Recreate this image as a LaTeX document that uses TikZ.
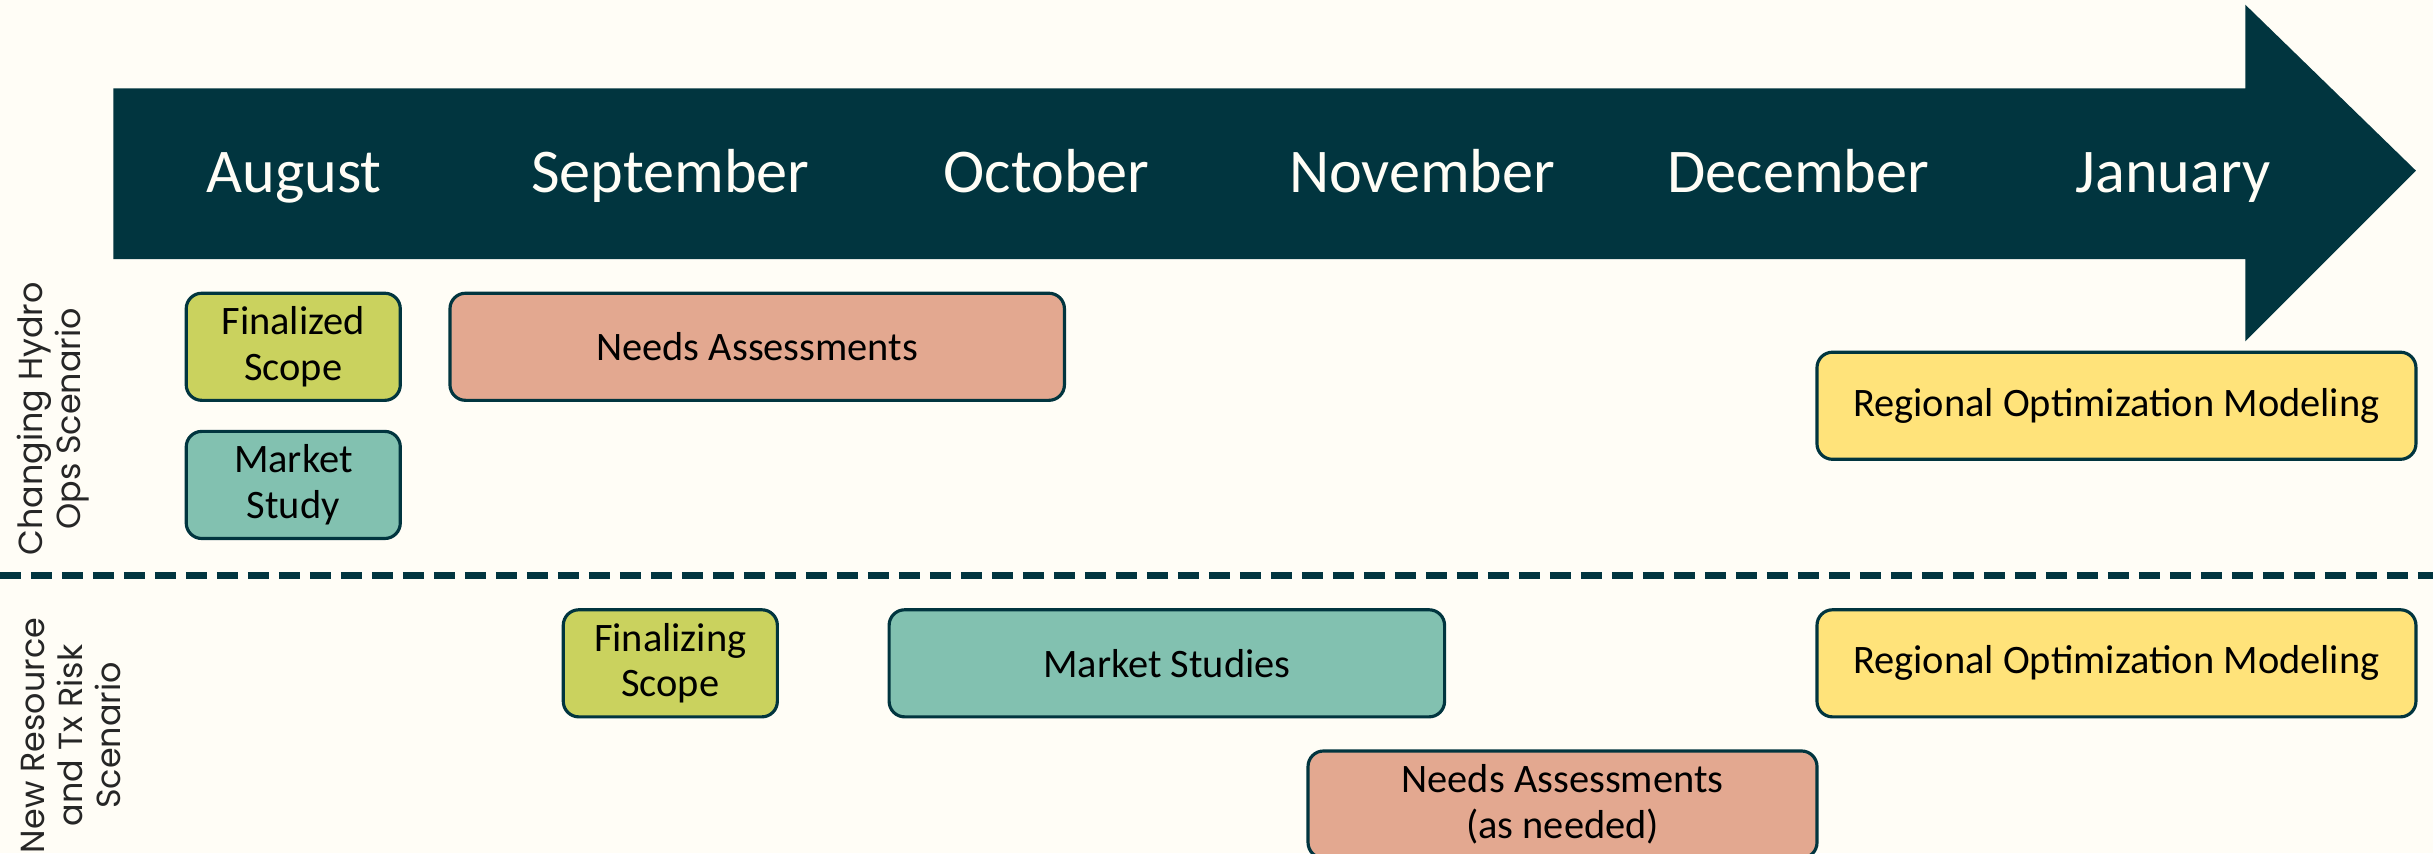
\documentclass[tikz,border=0pt]{standalone}
\usepackage{fontspec}
\setmainfont{Carlito}
\newfontfamily\lanefont{Poppins}
\usepackage{tikz}
\usetikzlibrary{positioning}

\definecolor{bgcream}{HTML}{FFFDF6}
\definecolor{deepteal}{HTML}{01353F}
\definecolor{scopegreen}{HTML}{CAD25E}
\definecolor{needsalmon}{HTML}{E3A890}
\definecolor{marketteal}{HTML}{82C1B0}
\definecolor{regionyellow}{HTML}{FFE37A}

\begin{document}
\begin{tikzpicture}[
      x=0.015517cm, y=-0.015517cm,
      month/.style={
        anchor=base,
        text=bgcream,
        font=\fontsize{17.7}{20}\selectfont
      },
      task/.style={
        draw=deepteal,
        line width=0.9pt,
        rounded corners=0.155cm,
        align=center,
        inner sep=0pt,
        minimum height=1.071cm,
        font=\fontsize{11.5}{13}\selectfont
      },
      lane/.style={
        rotate=90,
        align=center,
        text=black!85,
        font=\lanefont\fontsize{9.5}{10.8}\selectfont
      },
      dashrule/.style={
        draw=deepteal,
        line width=0.065cm,
        dash pattern=on 0.215cm off 0.095cm
      }
    ]
    \useasboundingbox (0,0) rectangle (1568,550);
    \fill[bgcream] (0,0) rectangle (1568,550);

    %% Timeline arrow
    \fill[deepteal] (73,57) -- (1447,57) -- (1447,3) -- (1557,110)
      -- (1447,220) -- (1447,167) -- (73,167) -- cycle;
    \node[month] (aug) at (189.5,124) {August};
    \node[month] (sep) at (432,124) {September};
    \node[month] (oct) at (674.5,124) {October};
    \node[month] (nov) at (916.5,124) {November};
    \node[month] (dec) at (1159,124) {December};
    \node[month] (jan) at (1400.5,124) {January};

    %% Lane 1
    \node[lane] (lane-1) at (34,270) {Changing Hydro\\Ops Scenario};
    \node[task, fill=scopegreen, minimum width=2.141cm] (scope-1) at (189,223.5) {Finalized\\Scope};
    \node[task, fill=marketteal, minimum width=2.141cm, below=0.279cm of scope-1] (market-1) {Market\\Study};
    \node[task, fill=needsalmon, minimum width=6.145cm] (needs-1) at (488,223.5) {Needs Assessments};
    \node[task, fill=regionyellow, minimum width=5.990cm] (region-1) at (1364,261.5) {Regional Optimization Modeling};

    %% Separator
    \coordinate (sep-left) at (0,371);
    \coordinate (sep-right) at (1568,371);
    \draw[dashrule] (sep-left) -- (sep-right);

    %% Lane 2
    \node[lane] (lane-2) at (46,474) {New Resource\\and Tx Risk\\Scenario};
    \node[task, fill=scopegreen, minimum width=2.141cm] (scope-2) at (432,427.5) {Finalizing\\Scope};
    \node[task, fill=marketteal, minimum width=5.555cm] (market-2) at (752,427.5) {Market Studies};
    \node[task, fill=regionyellow, minimum width=5.990cm] (region-2) at (1364,427.5) {Regional Optimization Modeling};
    \node[task, fill=needsalmon, minimum width=5.090cm] (needs-2) at (1007,518.5) {Needs Assessments\\(as needed)};
  \end{tikzpicture}
\end{document}
